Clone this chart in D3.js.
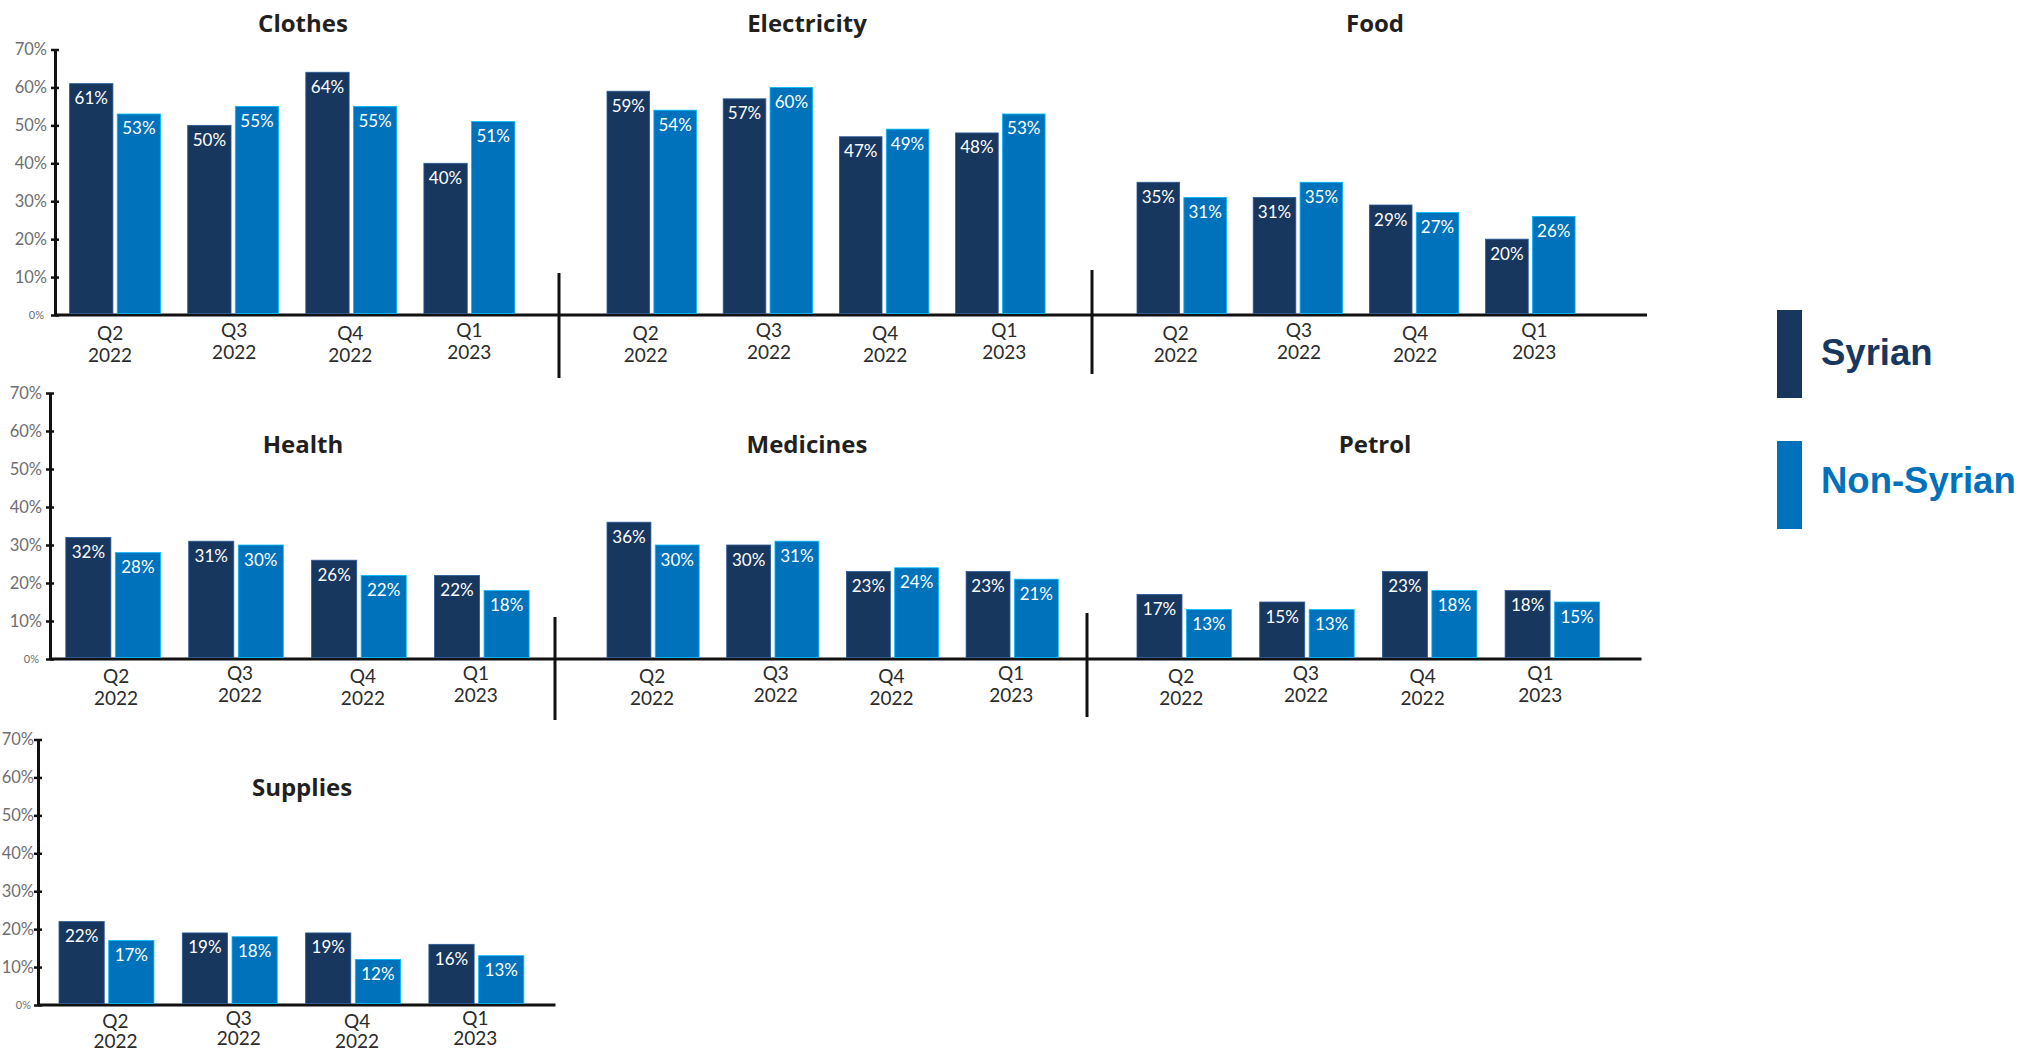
<!DOCTYPE html>
<html>
<head>
<meta charset="utf-8">
<script src="https://cdn.jsdelivr.net/npm/d3@7"></script>
<style>
  html, body { margin: 0; padding: 0; background: #ffffff; }
  svg { display: block; }
</style>
</head>
<body>
<svg id="chart" width="2022" height="1051"></svg>
<script>
// Share of households by expense category, Syrian vs non-Syrian, per quarter
const categories = ["Clothes", "Electricity", "Food", "Health", "Medicines", "Petrol", "Supplies"];
const quarters = ["Q2 2022", "Q3 2022", "Q4 2022", "Q1 2023"];
const series = ["Syrian", "Non-Syrian"];

const syrianValues = [
  [61, 50, 64, 40], // Clothes
  [59, 57, 47, 48], // Electricity
  [35, 31, 29, 20], // Food
  [32, 31, 26, 22], // Health
  [36, 30, 23, 23], // Medicines
  [17, 15, 23, 18], // Petrol
  [22, 19, 19, 16]  // Supplies
];
const nonSyrianValues = [
  [53, 55, 55, 51],
  [54, 60, 49, 53],
  [31, 35, 27, 26],
  [28, 30, 22, 18],
  [30, 31, 24, 21],
  [13, 13, 18, 15],
  [17, 18, 12, 13]
];
const yTicks = [0, 10, 20, 30, 40, 50, 60, 70];

// ---- layout ----
const colors = { "Syrian": "#18375e", "Non-Syrian": "#0072bb" };
const rows = [
  { base: 315, top: 49.5, axisX: 55, axisEnd: 1647, titleY: 32, labelDy: 25, lineGap: 21.5, tickGap: 8,
    seps: [{ x: 559, y1: 273, y2: 378 }, { x: 1092, y1: 270, y2: 374 }] },
  { base: 659, top: 393, axisX: 50, axisEnd: 1641.5, titleY: 453, labelDy: 24, lineGap: 21.5, tickGap: 8,
    seps: [{ x: 555, y1: 617, y2: 720 }, { x: 1087, y1: 613, y2: 717 }] },
  { base: 1005, top: 739.5, axisX: 38, axisEnd: 555.5, titleY: 796, labelDy: 22.5, lineGap: 20, tickGap: 4,
    seps: [] }
];
const panels = [
  { row: 0, start: 69.6, step: 118.1, titleX: 303, nudge: [-5, 1, -1, 0] },
  { row: 0, start: 607, step: 116.2, titleX: 807, nudge: [-6, 1, 1, 4] },
  { row: 0, start: 1137, step: 116.2, titleX: 1375, nudge: [-6, 1, 1, 4] },
  { row: 1, start: 65.8, step: 122.9, titleX: 303, nudge: [3, 4, 4, -6] },
  { row: 1, start: 607, step: 119.7, titleX: 807, nudge: [-1, 3, -1, -1] },
  { row: 1, start: 1137, step: 122.7, titleX: 1375, nudge: [-3, -1, -7, -12] },
  { row: 2, start: 59, step: 123.3, titleX: 302, nudge: [9, 9, 4, -1] }
];
const groupPad = 0.23;
const barPad = 0.09;
const quarterShift = [0, -3, 0, -3];

const svg = d3.select("#chart");
const labelFont = "Lato, 'Open Sans', sans-serif";
const titleFont = "'Open Sans', Lato, sans-serif";

rows.forEach(r => {
  const y = d3.scaleLinear().domain([0, 70]).range([r.base, r.top]);
  r.y = y;
  const g = svg.append("g").attr("transform", `translate(${r.axisX},0)`);
  g.call(d3.axisLeft(y).tickValues(yTicks).tickFormat(d => d + "%")
      .tickSize(0).tickSizeOuter(0));
  g.select(".domain").attr("stroke", "#111").attr("stroke-width", 3);
  g.selectAll(".tick").append("line")
    .attr("x1", -4).attr("x2", 4)
    .attr("stroke", "#111").attr("stroke-width", 2.5);
  g.selectAll(".tick text")
    .attr("font-family", labelFont)
    .attr("font-size", d => d === 0 ? 11 : 16.5)
    .attr("fill", "#6d6e71")
    .attr("x", d => d === 0 ? -(r.tickGap + 3) : -r.tickGap);

  // baseline across the row
  svg.append("line")
    .attr("x1", r.axisX).attr("x2", r.axisEnd)
    .attr("y1", y(0)).attr("y2", y(0))
    .attr("stroke", "#111").attr("stroke-width", 3);

  r.seps.forEach(s => {
    svg.append("line")
      .attr("x1", s.x).attr("x2", s.x).attr("y1", s.y1).attr("y2", s.y2)
      .attr("stroke", "#111").attr("stroke-width", 3);
  });
});

categories.forEach((cat, ci) => {
  const p = panels[ci];
  const r = rows[p.row];
  const y = r.y;
  const x0 = d3.scaleBand().domain(quarters)
    .range([p.start, p.start + p.step * (quarters.length - groupPad)])
    .paddingInner(groupPad).paddingOuter(0);
  const x1 = d3.scaleBand().domain(series)
    .range([0, x0.bandwidth()]).paddingInner(barPad);

  const g = svg.append("g").attr("class", "panel");

  g.append("text")
    .attr("x", p.titleX).attr("y", r.titleY)
    .attr("text-anchor", "middle")
    .attr("font-family", titleFont).attr("font-weight", 700)
    .attr("font-size", 24).attr("fill", "#231f20")
    .text(cat);

  const rowsData = quarters.map((q, qi) => ({
    quarter: q,
    values: [
      { series: "Syrian", value: syrianValues[ci][qi] },
      { series: "Non-Syrian", value: nonSyrianValues[ci][qi] }
    ]
  }));

  const grp = g.selectAll("g.grp").data(rowsData).join("g")
    .attr("class", "grp")
    .attr("transform", d => `translate(${x0(d.quarter)},0)`);

  grp.selectAll("rect").data(d => d.values).join("rect")
    .attr("x", d => x1(d.series))
    .attr("y", d => y(d.value))
    .attr("width", x1.bandwidth())
    .attr("height", d => y(0) - y(d.value) - 1.5)
    .attr("fill", d => colors[d.series])
    .attr("stroke", d => d3.color(colors[d.series]).brighter(1.4))
    .attr("stroke-width", 0.8);

  grp.selectAll("text.val").data(d => d.values).join("text")
    .attr("class", "val")
    .attr("x", d => x1(d.series) + x1.bandwidth() / 2)
    .attr("y", d => y(d.value) + 20.5)
    .attr("text-anchor", "middle")
    .attr("font-family", labelFont).attr("font-size", 17)
    .attr("fill", "#ffffff")
    .text(d => d.value + "%");

  // quarter labels
  quarters.forEach((q, qi) => {
    const [qt, yr] = q.split(" ");
    const t = g.append("text")
      .attr("text-anchor", "middle")
      .attr("font-family", labelFont).attr("font-size", 19)
      .attr("fill", "#2b2b2b");
    const cx = x0(q) + x0.bandwidth() / 2 + p.nudge[qi];
    const by = y(0) + r.labelDy + quarterShift[qi];
    t.append("tspan").attr("x", cx).attr("y", by).text(qt);
    t.append("tspan").attr("x", cx).attr("y", by + r.lineGap).text(yr);
  });
});

// legend
const legend = svg.append("g").attr("class", "legend");
const legendItems = [
  { name: "Syrian", top: 310, bottom: 398, textY: 365 },
  { name: "Non-Syrian", top: 441, bottom: 529, textY: 493 }
];
legend.selectAll("rect").data(legendItems).join("rect")
  .attr("x", 1777).attr("y", d => d.top)
  .attr("width", 25).attr("height", d => d.bottom - d.top)
  .attr("fill", d => colors[d.name]);
legend.selectAll("text").data(legendItems).join("text")
  .attr("x", 1821).attr("y", d => d.textY)
  .attr("font-family", "'Liberation Sans', Arial, sans-serif")
  .attr("font-weight", 700).attr("font-size", 36.5)
  .attr("fill", d => colors[d.name])
  .text(d => d.name);
</script>
</body>
</html>
